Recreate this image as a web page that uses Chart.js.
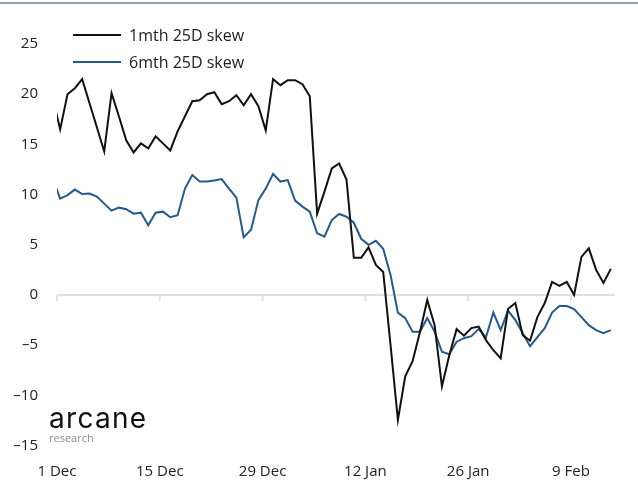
<!DOCTYPE html>
<html>
<head>
<meta charset="utf-8">
<script src="https://cdn.jsdelivr.net/npm/chart.js@4/dist/chart.umd.min.js"></script>
<style>
  html, body { margin: 0; padding: 0; background: #fff; }
  #wrap { position: relative; width: 638px; height: 486px; overflow: hidden; font-family: 'Open Sans', sans-serif; }
  #topline { position: absolute; left: 0; top: 2px; width: 638px; height: 2px; background: #8ba4c4; }
  #legend { position: absolute; left: 73px; top: 21px; }
  .lg { display: flex; align-items: center; height: 27px; font-size: 16px; color: #222; }
  .lg span.sw { display: inline-block; width: 48px; height: 2px; margin-right: 8px; }
  #logo { position: absolute; left: 49px; top: 401px; color: #111; font-family: 'Inter', sans-serif; font-size: 28px; font-weight: 400; letter-spacing: 1.3px; line-height: 34px; }
  #logosub { position: absolute; left: 49px; top: 432px; font-family: 'Open Sans', sans-serif; font-size: 11px; color: #8a8a8a; line-height: 12px; }
  canvas { position: absolute; left: 0; top: 0; }
</style>
</head>
<body>
<div id="wrap">
  <canvas id="c" width="638" height="486"></canvas>
  <div id="topline"></div>
  <div id="legend"></div>
  <div id="logo">arcane</div>
  <div id="logosub">research</div>
</div>
<script>
// ---- data (daily, first value is 30 Nov, then 1 Dec ... 14 Feb) ----
const START_DAY = -1;          // day index of first value relative to 1 Dec
const SAMPLE_HOUR = 10.3;      // time of day of each daily observation
const SERIES_NAMES = ['1mth 25D skew', '6mth 25D skew'];
const SKEW_1M = [19.6,
  16.5, 20.0, 20.6, 21.5, 19.1, 16.7, 14.3, 20.1, 17.8, 15.4,
  14.2, 15.1, 14.6, 15.8, 15.1, 14.4, 16.3, 17.8, 19.3, 19.4,
  20.0, 20.2, 19.0, 19.3, 19.9, 18.9, 20.0, 18.8, 16.4, 21.5,
  20.9, 21.4, 21.4, 21.0, 19.8, 8.1, 10.3, 12.6, 13.1, 11.5,
  3.7, 3.7, 4.75, 3.0, 2.3, -5.0, -12.45, -8.1, -6.6, -3.7,
  -0.5, -3.0, -9.1, -6.0, -3.4, -4.05, -3.3, -3.15, -4.5, -5.5,
  -6.3, -1.4, -0.8, -4.0, -4.55, -2.2, -0.8, 1.3, 0.9, 1.3,
  0.0, 3.8, 4.65, 2.5, 1.2, 2.6];
const SKEW_6M = [11.6,
  9.6, 9.95, 10.5, 10.05, 10.1, 9.8, 9.1, 8.4, 8.7, 8.55,
  8.1, 8.2, 6.95, 8.2, 8.3, 7.75, 7.95, 10.6, 11.95, 11.3,
  11.3, 11.4, 11.55, 10.6, 9.7, 5.75, 6.5, 9.45, 10.6, 12.05,
  11.3, 11.45, 9.4, 8.8, 8.3, 6.15, 5.8, 7.47, 8.07, 7.8,
  7.2, 5.6, 5.0, 5.4, 4.6, 2.0, -1.75, -2.3, -3.65, -3.65,
  -2.3, -3.65, -5.65, -5.9, -4.65, -4.3, -4.1, -3.4, -4.2, -1.75,
  -3.5, -1.55, -2.5, -3.8, -5.1, -4.2, -3.3, -1.75, -1.1, -1.1,
  -1.4, -2.2, -3.0, -3.5, -3.8, -3.5];
const TICK_DAYS = [0, 14, 28, 42, 56, 70];
const TICK_LABELS = ['1 Dec', '15 Dec', '29 Dec', '12 Jan', '26 Jan', '9 Feb'];
const X_MAX_DAY = 76;          // 15 Feb 00:00
const Y_MIN = -15, Y_MAX = 25, Y_STEP = 5;

const COLORS = ['#111111', '#245a8c'];

function toPoints(arr) {
  return arr.map((v, i) => ({ x: START_DAY + i + SAMPLE_HOUR / 24, y: v }));
}

const zeroLine = {
  id: 'zeroLine',
  beforeDatasetsDraw(chart) {
    const { ctx, chartArea, scales } = chart;
    const y0 = scales.y.getPixelForValue(0);
    ctx.save();
    ctx.strokeStyle = '#dfe1e6';
    ctx.lineWidth = 2;
    ctx.beginPath();
    ctx.moveTo(chartArea.left, y0);
    ctx.lineTo(chartArea.right, y0);
    TICK_DAYS.forEach(d => {
      const x = scales.x.getPixelForValue(d);
      ctx.moveTo(x, y0);
      ctx.lineTo(x, y0 + 6);
    });
    ctx.stroke();
    ctx.restore();
  }
};

const font = { family: "'Open Sans', sans-serif", size: 15 };

const chart = new Chart(document.getElementById('c'), {
  type: 'line',
  data: {
    datasets: [
      { label: SERIES_NAMES[0], data: toPoints(SKEW_1M), borderColor: COLORS[0], borderWidth: 2, pointRadius: 0, tension: 0 },
      { label: SERIES_NAMES[1], data: toPoints(SKEW_6M), borderColor: COLORS[1], borderWidth: 2, pointRadius: 0, tension: 0 }
    ]
  },
  options: {
    responsive: false,
    animation: false,
    devicePixelRatio: 1,
    layout: { padding: { top: 44, right: 23, left: 0, bottom: 0 } },
    plugins: { legend: { display: false }, tooltip: { enabled: false } },
    scales: {
      x: {
        type: 'linear', min: 0, max: X_MAX_DAY,
        grid: { display: false, drawTicks: false },
        border: { display: false },
        afterBuildTicks(s) { s.ticks = TICK_DAYS.map(v => ({ value: v })); },
        afterFit(s) { s.height = 40.4; },
        ticks: {
          font, color: '#222', padding: 17, maxRotation: 0, autoSkip: false,
          callback: (v) => { const i = TICK_DAYS.indexOf(v); return i >= 0 ? TICK_LABELS[i] : ''; }
        }
      },
      y: {
        min: Y_MIN, max: Y_MAX,
        grid: { display: false, drawTicks: false },
        border: { display: false },
        afterFit(s) { s.width = 57; },
        ticks: {
          font, color: '#222', padding: 19, stepSize: Y_STEP,
          callback: (v) => String(v).replace('-', '\u2013')
        }
      }
    }
  },
  plugins: [zeroLine]
});

// HTML legend built from the datasets
const lg = document.getElementById('legend');
chart.data.datasets.forEach(ds => {
  const row = document.createElement('div');
  row.className = 'lg';
  const sw = document.createElement('span');
  sw.className = 'sw';
  sw.style.background = ds.borderColor;
  row.appendChild(sw);
  row.appendChild(document.createTextNode(ds.label));
  lg.appendChild(row);
});
</script>
</body>
</html>
